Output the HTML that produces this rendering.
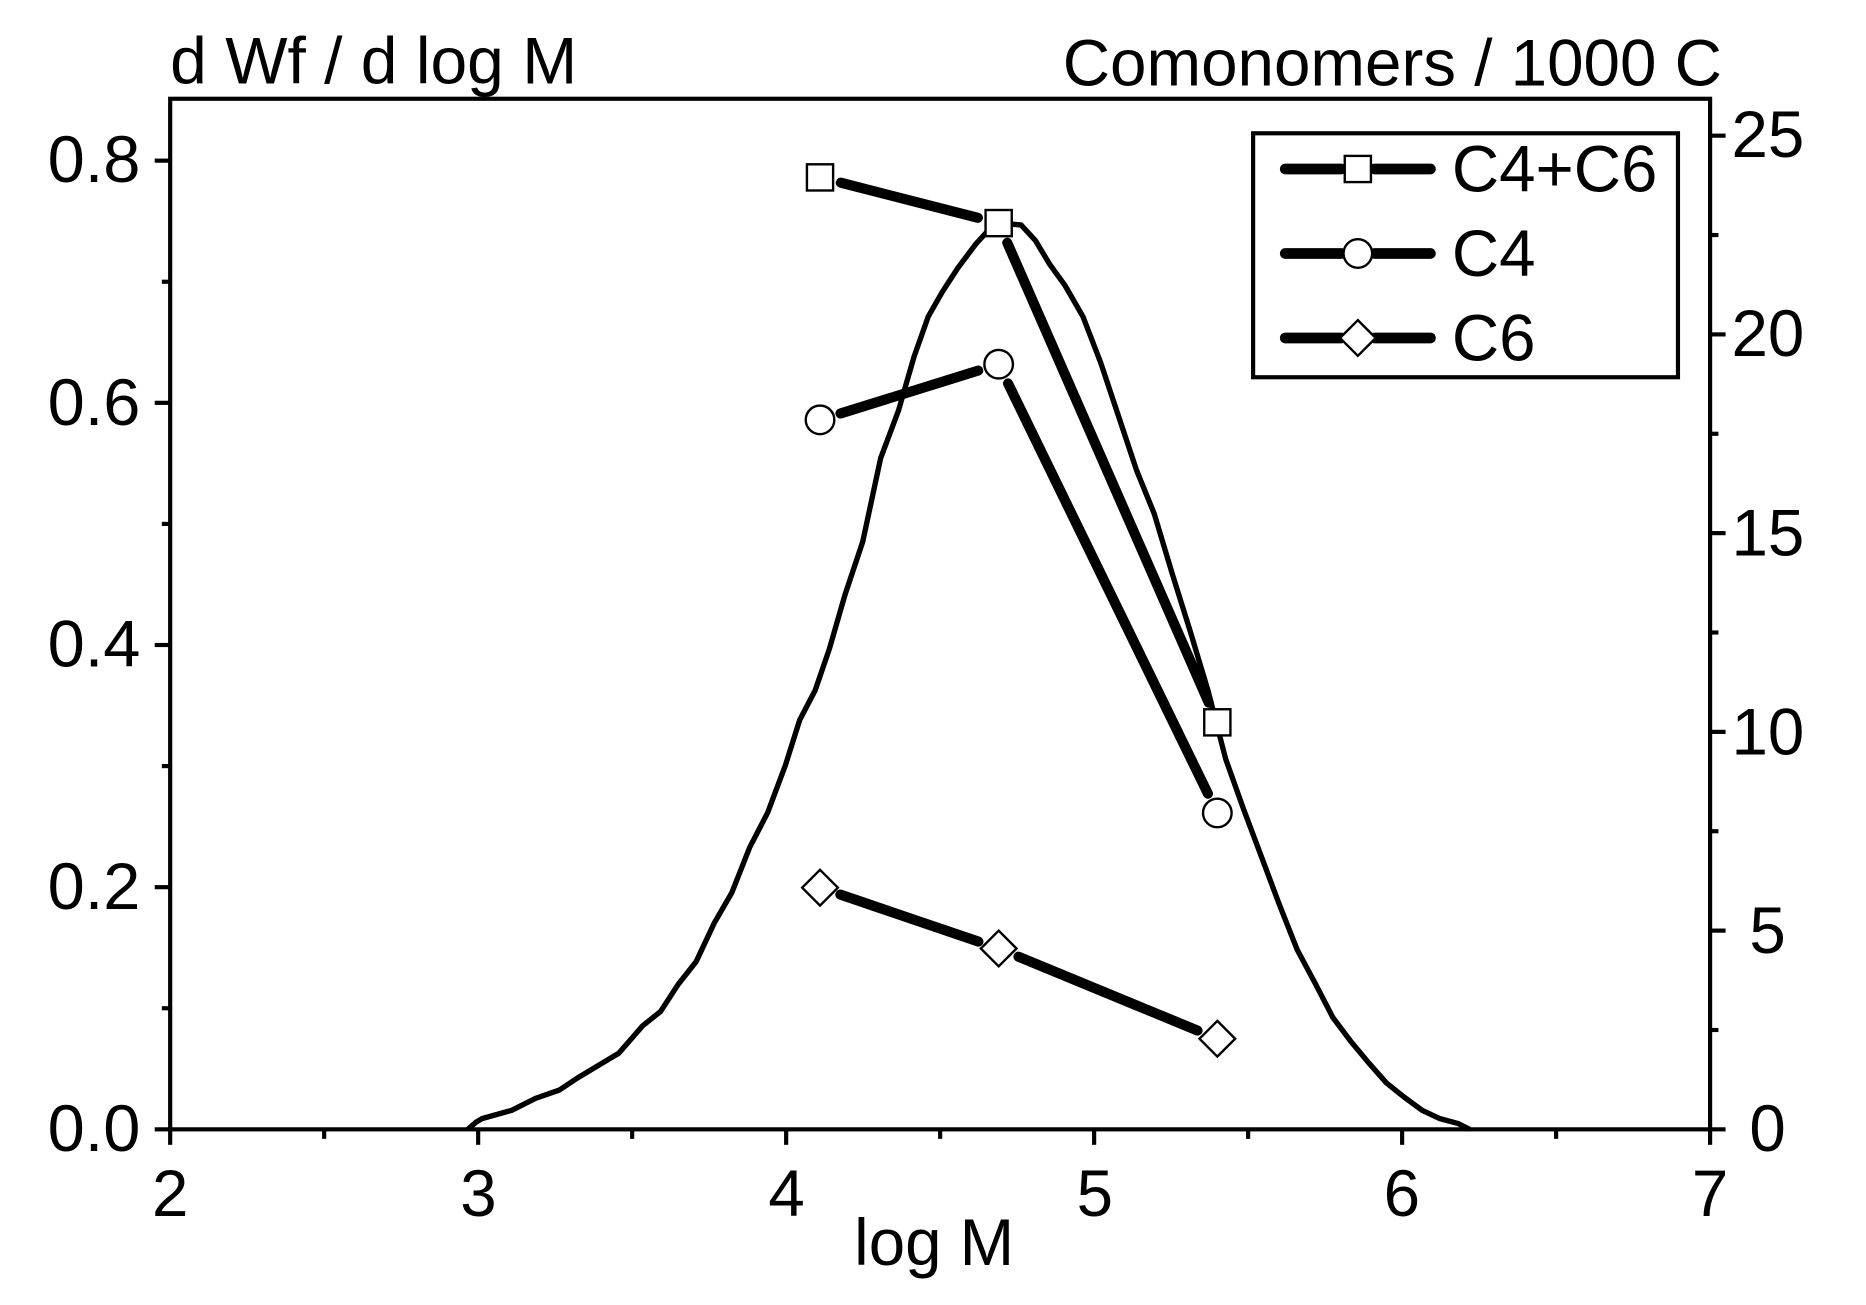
<!DOCTYPE html>
<html><head><meta charset="utf-8"><style>
html,body{margin:0;padding:0;background:#fff;}
svg{display:block;}
text{font-family:"Liberation Sans",Arial,sans-serif;fill:#000;}
</style></head><body>
<svg id="s" width="1866" height="1305" viewBox="0 0 1568 1096.6" preserveAspectRatio="none" xmlns="http://www.w3.org/2000/svg">
<rect x="0" y="0" width="1568" height="1097" fill="#fff"/>
<g stroke="#000" stroke-width="3.5" fill="none">
<rect x="143" y="83" width="1294" height="866"/>
</g>
<g id="ticks" stroke="#000" stroke-width="3.5"></g>
<g font-size="55">
<text x="118" y="153" text-anchor="end" textLength="78" lengthAdjust="spacingAndGlyphs">0.8</text>
<text x="118" y="357" text-anchor="end" textLength="78" lengthAdjust="spacingAndGlyphs">0.6</text>
<text x="118" y="560" text-anchor="end" textLength="78" lengthAdjust="spacingAndGlyphs">0.4</text>
<text x="118" y="764" text-anchor="end" textLength="78" lengthAdjust="spacingAndGlyphs">0.2</text>
<text x="118" y="967" text-anchor="end" textLength="78" lengthAdjust="spacingAndGlyphs">0.0</text>
<text x="1455" y="132">25</text>
<text x="1455" y="299">20</text>
<text x="1455" y="467">15</text>
<text x="1455" y="634">10</text>
<text x="1470" y="801">5</text>
<text x="1470" y="967">0</text>
<text x="143" y="1022" text-anchor="middle">2</text>
<text x="402" y="1022" text-anchor="middle">3</text>
<text x="661" y="1022" text-anchor="middle">4</text>
<text x="920" y="1022" text-anchor="middle">5</text>
<text x="1178" y="1022" text-anchor="middle">6</text>
<text x="1437" y="1022" text-anchor="middle">7</text>
<text x="785" y="1063" text-anchor="middle">log M</text>
<text x="143" y="70" textLength="342" lengthAdjust="spacingAndGlyphs">d Wf / d log M</text>
<text x="1447" y="72" text-anchor="end" textLength="554" lengthAdjust="spacingAndGlyphs">Comonomers / 1000 C</text>
</g>
<polyline fill="none" stroke="#000" stroke-width="4.5" stroke-linejoin="round" points="393,949 400,943 405,940 430,933 450,923 470,916 485,906 500,897 520,885 540,862 555,850 570,827 585,808 600,776 615,750 630,712 645,683 660,643 672,605 685,580 697,545 710,500 725,455 740,385 755,345 768,300 780,266 792,245 805,225 820,205 832,192 845,188 858,189 870,202 882,222 895,240 910,266 925,305 940,350 955,395 970,432 985,482 1000,530 1015,580 1030,638 1045,680 1060,720 1075,760 1090,798 1105,826 1120,855 1135,875 1150,893 1165,910 1180,922 1195,933 1210,940 1225,944 1235,949"/>
<g id="series"></g>
<g stroke="#000" stroke-width="3.5" fill="#fff"><rect x="1053" y="112" width="357" height="205"/></g>
<g id="leg"></g>
<g font-size="55">
<text x="1220" y="161">C4+C6</text>
<text x="1220" y="232">C4</text>
<text x="1220" y="303">C6</text>
</g>
</svg>
<script>
var NS="http://www.w3.org/2000/svg";
function el(p,t,a){var e=document.createElementNS(NS,t);for(var k in a)e.setAttribute(k,a[k]);p.appendChild(e);return e;}
var tk=document.getElementById('ticks');
for(var i=0;i<=10;i++){var x=143+i*129.4;el(tk,'line',{x1:x,y1:949,x2:x,y2:i%2?957:962});}
for(var i=0;i<=8;i++){var y=949-i*101.75;el(tk,'line',{x1:143,y1:y,x2:i%2?136:130,y2:y});}
for(var i=0;i<=10;i++){var y=949-i*83.5;el(tk,'line',{x1:1437,y1:y,x2:i%2?1444:1450,y2:y});}
function X(v){return 143+(v-2)*258.8;}
function Y(v){return 949-v*33.4;}
var S=[{m:'sq',p:[[4.11,23.95],[4.69,22.8],[5.40,10.24]]},
{m:'ci',p:[[4.11,17.85],[4.69,19.25],[5.40,7.96]]},
{m:'di',p:[[4.11,6.08],[4.69,4.55],[5.40,2.28]]}];
var g=document.getElementById('series');
function marker(p,m,x,y){
 if(m=='sq')el(p,'rect',{x:x-11,y:y-11,width:22,height:22,fill:'#fff',stroke:'#000','stroke-width':2});
 else if(m=='ci')el(p,'circle',{cx:x,cy:y,r:12,fill:'#fff',stroke:'#000','stroke-width':2});
 else el(p,'polygon',{points:(x)+','+(y-15)+' '+(x+15)+','+y+' '+x+','+(y+15)+' '+(x-15)+','+y,fill:'#fff',stroke:'#000','stroke-width':2});
}
S.forEach(function(s){
 var pts=s.p.map(function(q){return [X(q[0]),Y(q[1])];});
 for(var i=0;i<pts.length-1;i++){
  var a=pts[i],b=pts[i+1],dx=b[0]-a[0],dy=b[1]-a[1],L=Math.hypot(dx,dy),ux=dx/L,uy=dy/L,gap=18;
  el(g,'line',{x1:a[0]+ux*gap,y1:a[1]+uy*gap,x2:b[0]-ux*gap,y2:b[1]-uy*gap,stroke:'#000','stroke-width':8.5,'stroke-linecap':'round'});
 }
 pts.forEach(function(q){marker(g,s.m,q[0],q[1]);});
});
var lg=document.getElementById('leg');
[['sq',142],['ci',213],['di',284]].forEach(function(r){
 el(lg,'line',{x1:1080,y1:r[1],x2:1127,y2:r[1],stroke:'#000','stroke-width':9,'stroke-linecap':'round'});
 el(lg,'line',{x1:1155,y1:r[1],x2:1202,y2:r[1],stroke:'#000','stroke-width':9,'stroke-linecap':'round'});
 marker(lg,r[0],1141,r[1]);
});
</script>
</body></html>
